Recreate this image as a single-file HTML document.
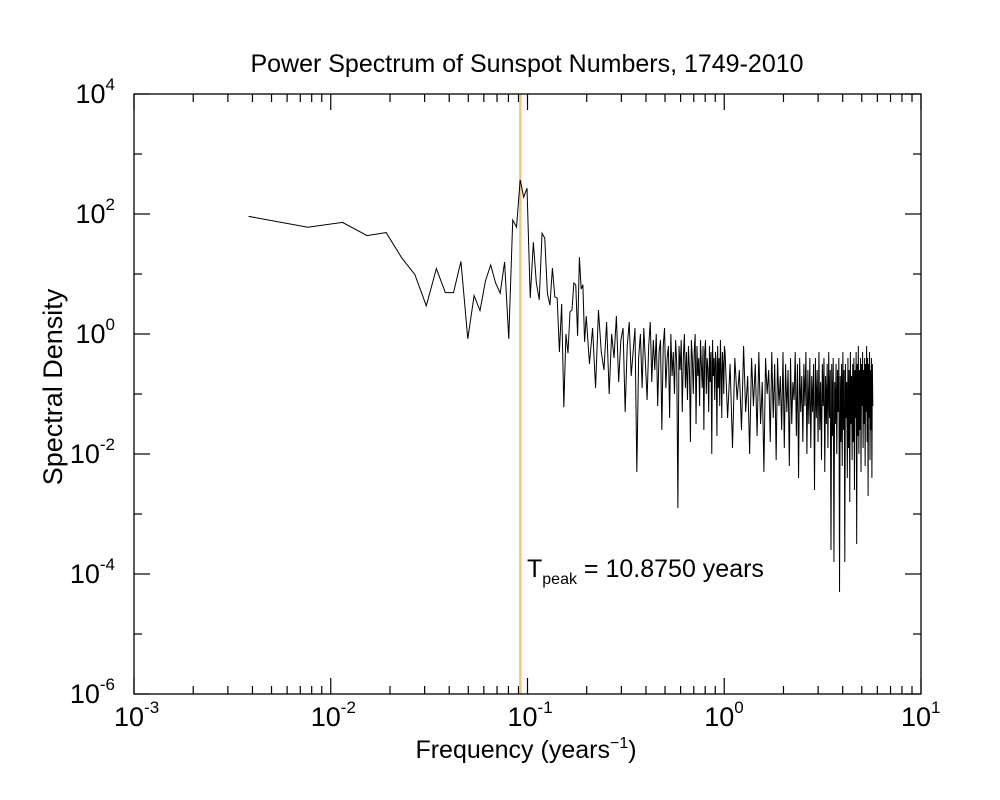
<!DOCTYPE html>
<html><head><meta charset="utf-8"><style>
body{margin:0;background:#fff;}
svg{display:block;font-family:"Liberation Sans",sans-serif;}
</style></head><body>
<svg id="chart" width="1000" height="800" xmlns="http://www.w3.org/2000/svg">
<text x="527" y="72" font-size="25" text-anchor="middle">Power Spectrum of Sunspot Numbers, 1749-2010</text>
<g id="axes"></g>
<line id="peak" stroke="#f7c47e" stroke-width="2.5"/>
<path id="series" fill="none" stroke="#000" stroke-width="1"/>
<rect x="134" y="94" width="787" height="600" fill="none" stroke="#000" stroke-width="1.3"/>
<text x="527" y="577" font-size="25">T<tspan font-size="16" dy="7">peak</tspan><tspan dy="-7"> = 10.8750 years</tspan></text>
<text x="526" y="758" font-size="25" text-anchor="middle">Frequency (years<tspan font-size="16" dy="-10">−1</tspan><tspan dy="10">)</tspan></text>
<text transform="translate(62,387) rotate(-90)" font-size="27" text-anchor="middle">Spectral Density</text>
</svg>
<script>
const N_YEARS = 261.5;
const PEAK_PERIOD = 10.875;
const xDecades = [-3,-2,-1,0,1];
const yDecades = [-6,-4,-2,0,2,4];
// log10 spectral density, k = 1..51 (f = k/N_YEARS)
const lowVals = [1.96,1.78,1.86,1.64,1.69,1.27,0.99,0.47,1.09,0.69,0.69,1.21,-0.08,0.64,0.39,0.89,1.15,0.85,0.68,1.2,-0.08,1.9,1.78,2.57,2.28,2.43,0.6,1.53,0.85,0.57,1.68,1.6,0.68,0.48,1.1,0.62,0.6,-0.3,0.5,-1.22,0.0,-0.32,0.37,0.4,0.85,0.82,-0.03,1.28,0.75,0.82,-0.13];
// log10 values, k = 52,54,...
const midVals = [0.3,-0.5,0.1,-0.9,0.4,-0.3,-0.6,0.2,-1.0,0.0,-0.4,0.3,-0.8,-0.1,0.1,-1.3,-0.2,0.2,-0.7,-0.3,0.1,-2.3,-0.4,0.0,-0.9,0.1,-0.5,-1.1,-0.2,0.2,-0.8,-0.1,-0.6,0.0,-1.2,-0.3,-0.1,-1.6,-0.2,0.1,-0.9,-0.4,-0.2,-1.4,0.0,-0.7,-0.3,-1.0,-0.1,-0.5,-2.9,-0.2,-0.6,-0.1,-1.3,-0.4,0.0,-0.9,-0.3,-1.1,-0.2,-0.6,-1.8,-0.1,-0.4,-1.0,-0.3,0.0,-1.5,-0.2,-0.7,-0.4,-1.2,-0.1,-0.5,-0.9,-0.2,-1.6,-0.3,-0.1,-1.0,-0.4,-0.6,-1.3,-0.2,-0.8,-0.3,-2.0,-0.1,-0.7,-0.4,-1.1,-0.3,-0.5,-1.7,-0.2,-0.9,-0.4,-1.2,-0.1,-0.6,-1.4,-0.3,-0.5,-1.0,-0.2];
// log10 values, k = 264,272,...
const highVals = [-0.3,-1.4,-0.5,-1.9,-0.4,-1.1,-0.6,-1.6,-0.2,-1.3,-0.7,-2.0,-0.4,-1.2,-0.5,-1.7,-0.3,-1.5,-0.8,-2.3,-0.4,-1.0,-0.6,-1.8,-0.3,-1.4,-0.5,-2.1,-0.4,-1.2,
-0.7,-1.6,-0.3,-1.9,-0.5,-1.3,-0.6,-2.2,-0.4,-1.5,-0.8,-1.1,-0.3,-1.7,-0.5,-2.4,-0.4,-1.3,-0.7,-1.8,-0.5,-1.2,-0.3,-2.0,-0.6,-1.5,-0.4,-1.9,-0.7,-1.3,
-0.5,-2.6,-0.4,-1.4,-0.6,-1.8,-0.3,-1.6,-0.8,-2.1,-0.5,-1.2,-0.4,-2.3,-0.7,-1.5,-0.5,-1.9,-0.3,-1.4,-0.6,-3.6,-0.5,-1.7,-0.4,-3.8,-0.8,-1.5,-0.5,-2.0,
-0.6,-1.3,-0.4,-4.3,-0.7,-1.8,-0.5,-2.2,-0.3,-1.6,-0.6,-3.8,-0.5,-1.4,-0.8,-2.4,-0.4,-1.9,-0.6,-2.8,-0.3,-1.5,-0.7,-2.1,-0.5,-1.8,-0.4,-2.6,-0.6,-1.4,
-0.3,-3.5,-0.5,-1.7,-0.2,-2.0,-0.6,-1.6,-0.4,-2.3,-0.5,-1.2,-0.3,-1.9,-0.6,-1.5,-0.4,-2.2,-0.5,-1.3,-0.2,-1.8,-0.4,-2.7,-0.5,-1.4,-0.3,-2.1,-0.6,-1.6,
-0.4,-2.4,-0.5,-1.2];

const X0=134, X1=921, Y0=694, Y1=94;
function xs(f){return X0+(Math.log10(f)+3)/4*(X1-X0);}
function ys(lv){return Y0-(lv+6)/10*(Y0-Y1);}
const NS="http://www.w3.org/2000/svg";
const axes=document.getElementById('axes');
function ln(x1,y1,x2,y2,name){
  const l=document.createElementNS(NS,'line');
  l.setAttribute('x1',x1);l.setAttribute('y1',y1);l.setAttribute('x2',x2);l.setAttribute('y2',y2);
  l.setAttribute('stroke','#000');l.setAttribute('stroke-width','1.2');
  
  
  axes.appendChild(l);
}
function lbl(x,y,exp,anchor,name){
  const t=document.createElementNS(NS,'text');
  t.setAttribute('x',x);t.setAttribute('y',y);t.setAttribute('font-size','27');t.setAttribute('text-anchor',anchor);
  t.innerHTML='10<tspan font-size="17" dy="-13">'+exp+'</tspan>';
  
  
  axes.appendChild(t);
}
xDecades.forEach(d=>{
  const x=xs(Math.pow(10,d));
  ln(x,Y0,x,Y0-16,'x-major-tick');ln(x,Y1,x,Y1+16,'x-major-tick-top');
  lbl(x-20,726,d,'start','x-tick-label');
  if(d<1) for(let m=2;m<10;m++){const xm=xs(m*Math.pow(10,d));
    ln(xm,Y0,xm,Y0-8,'x-minor-tick');ln(xm,Y1,xm,Y1+8,'x-minor-tick-top');}
});
for(let d=-6;d<=4;d++){
  const y=ys(d);const L=(yDecades.includes(d))?16:8;
  ln(X0,y,X0+L,y,'y-tick');ln(X1,y,X1-L,y,'y-tick-right');
}
yDecades.forEach(d=>{lbl(115,ys(d)+9,d,'end','y-tick-label');});
const pts=[];
lowVals.forEach((v,i)=>pts.push([(i+1)/N_YEARS,v]));
midVals.forEach((v,i)=>pts.push([(52+2*i)/N_YEARS,v]));
highVals.forEach((v,i)=>pts.push([(264+8*i)/N_YEARS,v]));
document.getElementById('series').setAttribute('d',pts.map((p,i)=>(i?'L':'M')+xs(p[0]).toFixed(2)+','+ys(p[1]).toFixed(2)).join(''));
const pk=document.getElementById('peak');const px=xs(1/PEAK_PERIOD);
pk.setAttribute('x1',px);pk.setAttribute('x2',px);pk.setAttribute('y1',Y1);pk.setAttribute('y2',Y0);
</script>
</body></html>
